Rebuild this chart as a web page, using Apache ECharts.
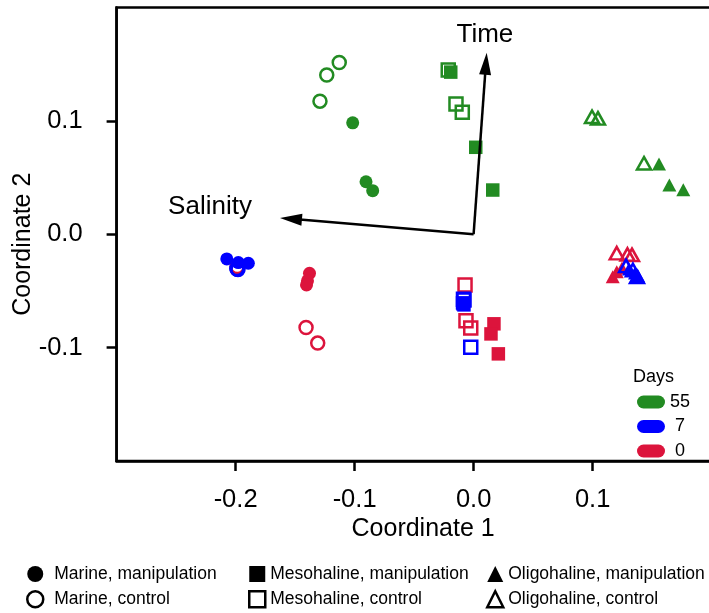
<!DOCTYPE html>
<html>
<head>
<meta charset="utf-8">
<script src="https://cdn.jsdelivr.net/npm/echarts@6/dist/echarts.min.js"></script>
<style>html,body{margin:0;padding:0;background:#fff}#c{width:709px;height:613px}</style>
</head>
<body>
<div id="c"></div>
<script>
// ---- data ----
const xTicks = [-0.2, -0.1, 0.0, 0.1];
const yTicks = [-0.1, 0.0, 0.1];
const dayNames = ['55', '7', '0'];
const shapeLegendNames = ['Marine, manipulation', 'Marine, control', 'Mesohaline, manipulation', 'Mesohaline, control', 'Oligohaline, manipulation', 'Oligohaline, control'];

// day 0
const d0_marine_manip = [[-0.1379, -0.0345], [-0.1396, -0.0411], [-0.1404, -0.0447]];
const d0_marine_ctrl  = [[-0.1408, -0.0823], [-0.1310, -0.0960], [-0.1986, -0.0284]];
const d0_meso_manip   = [[0.0171, -0.0790], [0.0146, -0.0879], [0.0208, -0.1055]];
const d0_meso_ctrl    = [[-0.0072, -0.0447], [-0.0064, -0.0764], [-0.0024, -0.0828]];
const d0_oligo_manip  = [[0.1169, -0.0374], [0.1203, -0.0330], [0.1247, -0.0297]];
const d0_oligo_ctrl   = [[0.1203, -0.0167], [0.1293, -0.0178], [0.1331, -0.0182]];
// day 7
const d7_marine_manip = [[-0.2074, -0.0218], [-0.1977, -0.0250], [-0.1893, -0.0256]];
const d7_marine_ctrl  = [[-0.1986, -0.0308], [-0.1990, -0.0302], [-0.1980, -0.0312]];
const d7_meso_manip   = [[-0.0093, -0.0605], [-0.0081, -0.0623], [-0.0089, -0.0614]];
const d7_meso_ctrl    = [[-0.0024, -0.0996], [-0.0085, -0.0574], [-0.0081, -0.0579]];
const d7_oligo_manip  = [[0.1306, -0.0306], [0.1356, -0.0341], [0.1382, -0.0367]];
const d7_oligo_ctrl   = [[0.1281, -0.0279], [0.1339, -0.0315], [0.1373, -0.0376]];
// day 55
const d55_marine_manip = [[-0.1016, 0.0983], [-0.0904, 0.0463], [-0.0848, 0.0384]];
const d55_marine_ctrl  = [[-0.1129, 0.1515], [-0.1234, 0.1404], [-0.1291, 0.1174]];
const d55_meso_manip   = [[-0.0192, 0.1430], [0.0018, 0.0767], [0.0161, 0.0390]];
const d55_meso_ctrl    = [[-0.0213, 0.1448], [-0.0148, 0.1148], [-0.0095, 0.1075]];
const d55_oligo_manip  = [[0.1558, 0.0619], [0.1645, 0.0434], [0.1762, 0.0393]];
const d55_oligo_ctrl   = [[0.0995, 0.1036], [0.1045, 0.1022], [0.1432, 0.0626]];

// environmental vectors
const arrowNames = ['Time', 'Salinity'];
const arrowOrigin = [[0, 0], [0, 0]];
const arrowTips = [[0.0110, 0.1600], [-0.1627, 0.0144]];
const arrowLabelAt = [[0.0095, 0.1760], [-0.2215, 0.0240]];

// ---- styles ----
const FONT = '"Liberation Sans", Arial, Helvetica, sans-serif';
const dayColor = { '55': '#228B22', '7': '#0000FF', '0': '#DC143C' };
const BW = 2.5;
function filled(sym, color) {
  const size = sym === 'triangle' ? [14, 13] : (sym === 'rect' ? 13.5 : 13);
  return { symbol: sym, symbolSize: size, itemStyle: { color: color, borderWidth: 0, opacity: 1 } };
}
function open(sym, color) {
  const size = sym === 'triangle' ? [14, 12.5] : 13;
  return { symbol: sym, symbolSize: size, itemStyle: { color: 'rgba(0,0,0,0)', borderColor: color, borderWidth: BW, opacity: 1 } };
}
function groupItems(arr, st) {
  return arr.map(p => Object.assign({ value: p }, JSON.parse(JSON.stringify(st))));
}
function dayData(day, mm, mc, em, ec, om, oc) {
  const c = dayColor[day];
  return [].concat(
    groupItems(mm, filled('circle', c)),
    groupItems(mc, open('circle', c)),
    groupItems(em, filled('rect', c)),
    groupItems(ec, open('rect', c)),
    groupItems(om, filled('triangle', c)),
    groupItems(oc, open('triangle', c))
  );
}

const chart = echarts.init(document.getElementById('c'), null, { renderer: 'canvas' });

const daySeries = [
  { name: '0', data: dayData('0', d0_marine_manip, d0_marine_ctrl, d0_meso_manip, d0_meso_ctrl, d0_oligo_manip, d0_oligo_ctrl) },
  { name: '7', data: dayData('7', d7_marine_manip, d7_marine_ctrl, d7_meso_manip, d7_meso_ctrl, d7_oligo_manip, d7_oligo_ctrl) },
  { name: '55', data: dayData('55', d55_marine_manip, d55_marine_ctrl, d55_meso_manip, d55_meso_ctrl, d55_oligo_manip, d55_oligo_ctrl) }
].map(s => ({
  type: 'scatter', name: s.name, data: s.data, color: dayColor[s.name],
  itemStyle: { color: dayColor[s.name], opacity: 1 }, emphasis: { disabled: true }, silent: true, z: 3
}));

// dummy series for the shape legend
const shapeSyms = ['circle', 'circle', 'rect', 'rect', 'triangle', 'triangle'];
const shapeSeries = shapeLegendNames.map((n, i) => ({
  type: 'scatter', name: n, data: [], symbol: shapeSyms[i], itemStyle: { color: '#000', opacity: 1 }
}));

const arrowSeries = {
  type: 'custom', name: 'vectors', silent: true, z: 5,
  data: arrowNames.map((n, i) => [arrowOrigin[i][0], arrowOrigin[i][1], arrowTips[i][0], arrowTips[i][1], arrowLabelAt[i][0], arrowLabelAt[i][1]]),
  encode: { x: [0, 2], y: [1, 3] },
  renderItem: function (params, api) {
    const p0 = api.coord([api.value(0), api.value(1)]);
    const p1 = api.coord([api.value(2), api.value(3)]);
    const pl = api.coord([api.value(4), api.value(5)]);
    const dx = p1[0] - p0[0], dy = p1[1] - p0[1];
    const len = Math.sqrt(dx * dx + dy * dy);
    const ux = dx / len, uy = dy / len;
    const headL = 22, headW = 6;
    const bx = p1[0] - ux * headL, by = p1[1] - uy * headL;
    return {
      type: 'group',
      children: [
        { type: 'line', shape: { x1: p0[0], y1: p0[1], x2: bx + ux * 2, y2: by + uy * 2 }, style: { stroke: '#000', lineWidth: 2.5 } },
        { type: 'polygon', shape: { points: [[p1[0], p1[1]], [bx - uy * headW, by + ux * headW], [bx + uy * headW, by - ux * headW]] }, style: { fill: '#000' } },
        { type: 'text', x: pl[0], y: pl[1], style: { text: arrowNames[params.dataIndex], fill: '#000', font: '26px ' + FONT, align: 'center', verticalAlign: 'middle' } }
      ]
    };
  }
};

const legendIcon = {
  'Marine, manipulation': { icon: 'circle', itemStyle: { color: '#000', borderWidth: 0, opacity: 1 } },
  'Marine, control': { icon: 'circle', itemStyle: { color: '#fff', borderColor: '#000', borderWidth: 2.5, opacity: 1 } },
  'Mesohaline, manipulation': { icon: 'rect', itemStyle: { color: '#000', borderWidth: 0, opacity: 1 } },
  'Mesohaline, control': { icon: 'rect', itemStyle: { color: '#fff', borderColor: '#000', borderWidth: 2.5, opacity: 1 } },
  'Oligohaline, manipulation': { icon: 'triangle', itemStyle: { color: '#000', borderWidth: 0, opacity: 1 } },
  'Oligohaline, control': { icon: 'triangle', itemStyle: { color: '#fff', borderColor: '#000', borderWidth: 2.5, opacity: 1 } }
};
function shapeLegend(names, left, itemW, textPad) {
  return {
    orient: 'vertical', left: left, top: 565, itemGap: 7, itemWidth: itemW, itemHeight: 16,
    selectedMode: false, padding: 0,
    textStyle: { color: '#000', fontSize: 17.5, fontFamily: FONT, padding: [0, 0, 0, textPad] },
    data: names.map(n => Object.assign({ name: n }, legendIcon[n]))
  };
}

const pill = 'path://M6.5,0 H21.5 A6.5,6.5 0 0 1 21.5,13 H6.5 A6.5,6.5 0 0 1 6.5,0 Z';

chart.setOption({
  animation: false,
  backgroundColor: '#fff',
  title: { text: 'Days', left: 633, top: 368, padding: 0, textStyle: { fontSize: 18, fontWeight: 'normal', color: '#000', fontFamily: FONT } },
  grid: { left: 116.6, top: 7.5, width: 595, height: 453.5, show: true, borderColor: '#000', borderWidth: 2.5, backgroundColor: 'rgba(0,0,0,0)', containLabel: false, outerBoundsMode: 'none' },
  xAxis: {
    type: 'value', min: -0.3, max: 0.2, interval: 0.1,
    name: 'Coordinate 1', nameLocation: 'middle', nameGap: 56, nameMoveOverlap: false,
    nameTextStyle: { fontSize: 25, color: '#000', fontFamily: FONT, padding: [0, 0, 0, 18] },
    axisLine: { show: true, onZero: false, lineStyle: { color: '#000', width: 2.5 } },
    axisTick: { show: true, length: 10, inside: false, customValues: xTicks, lineStyle: { color: '#000', width: 2.5 } },
    axisLabel: { show: true, customValues: xTicks, margin: 26, fontSize: 25.5, color: '#000', fontFamily: FONT, formatter: v => v.toFixed(1) },
    splitLine: { show: false }
  },
  yAxis: {
    type: 'value', min: -0.2, max: 0.2, interval: 0.1,
    name: 'Coordinate 2', nameLocation: 'middle', nameGap: 81, nameMoveOverlap: false,
    nameTextStyle: { fontSize: 25, color: '#000', fontFamily: FONT, padding: [0, 20, 0, 0] },
    axisLine: { show: true, onZero: false, lineStyle: { color: '#000', width: 2.5 } },
    axisTick: { show: true, length: 10, inside: false, customValues: yTicks, lineStyle: { color: '#000', width: 2.5 } },
    axisLabel: { show: true, customValues: yTicks, margin: 34, fontSize: 25.5, color: '#000', fontFamily: FONT, formatter: v => v.toFixed(1) },
    splitLine: { show: false }
  },
  legend: [
    {
      orient: 'vertical', left: 637, top: 393, itemWidth: 28, itemHeight: 13, itemGap: 6.5, padding: 0,
      selectedMode: false, icon: pill,
      textStyle: { fontSize: 18, color: '#000', fontFamily: FONT },
      formatter: n => (n.length === 1 ? ' ' + n : n),
      data: dayNames.map(d => ({ name: d, icon: pill, itemStyle: { color: dayColor[d], borderWidth: 0, opacity: 1 } }))
    },
    shapeLegend(['Marine, manipulation', 'Marine, control'], 26, 16, 6),
    shapeLegend(['Mesohaline, manipulation', 'Mesohaline, control'], 248, 16, 0),
    shapeLegend(['Oligohaline, manipulation', 'Oligohaline, control'], 486, 16, 0)
  ],
  series: daySeries.concat(shapeSeries, [arrowSeries])
});
</script>
</body>
</html>
